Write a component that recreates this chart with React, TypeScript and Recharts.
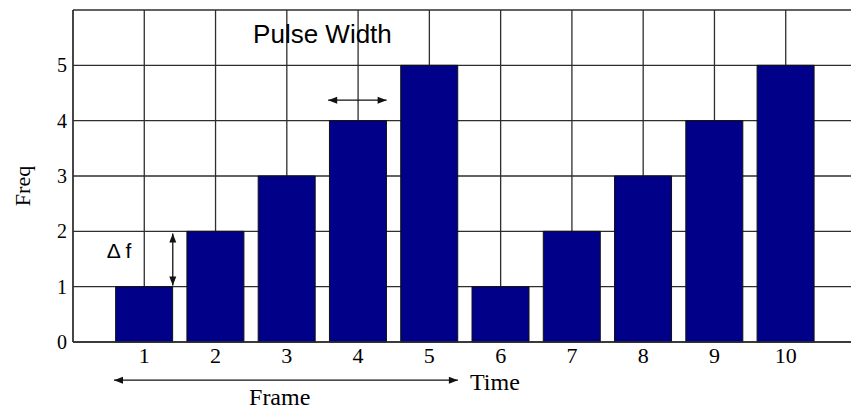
import { BarChart, Bar, XAxis, YAxis, CartesianGrid, ReferenceLine, ReferenceDot } from 'recharts';

// time slots and the frequency step used in each
const times = [1, 2, 3, 4, 5, 6, 7, 8, 9, 10];
const freqs = [1, 2, 3, 4, 5, 1, 2, 3, 4, 5];
const xTicks = [0, 1, 2, 3, 4, 5, 6, 7, 8, 9, 10, 11];
const yTicks = [0, 1, 2, 3, 4, 5, 6];

const data = times.map((t, i) => ({ time: t, freq: freqs[i] }));

const SERIF = '"Liberation Serif", "Times New Roman", serif';
const SANS = '"Liberation Sans", Arial, sans-serif';

// line with an arrow head at both ends
function DoubleArrow(props: any) {
  const { x1, y1, x2, y2 } = props;
  const ang = Math.atan2(y2 - y1, x2 - x1);
  const len = 9;
  const half = 3.5;
  const head = (x: number, y: number, a: number) => {
    const bx = x - len * Math.cos(a);
    const by = y - len * Math.sin(a);
    const px = -Math.sin(a) * half;
    const py = Math.cos(a) * half;
    return `${x},${y} ${bx + px},${by + py} ${bx - px},${by - py}`;
  };
  return (
    <g>
      <line x1={x1} y1={y1} x2={x2} y2={y2} stroke="#111" strokeWidth={1.3} />
      <polygon points={head(x2, y2, ang)} fill="#111" />
      <polygon points={head(x1, y1, ang + Math.PI)} fill="#111" />
    </g>
  );
}

const textAt = (value: string, font: string, size: number, anchor: 'start' | 'middle' = 'middle') =>
  (p: any) => (
    <text
      x={p.cx}
      y={p.cy}
      textAnchor={anchor}
      dominantBaseline="central"
      fontFamily={font}
      fontSize={size}
      fill="#000"
    >
      {value}
    </text>
  );

export default function App() {
  return (
    <div style={{ position: 'fixed', left: 0, top: 0, width: 851, height: 414, overflow: 'hidden', background: '#fff' }}>
      <BarChart
        width={857}
        height={414}
        data={data}
        margin={{ top: 10, right: 0, left: 0, bottom: 42 }}
      >
        <CartesianGrid stroke="#2e2e2e" strokeWidth={1.3} />
        <XAxis
          dataKey="time"
          type="number"
          domain={[0, 11]}
          ticks={xTicks}
          interval={0}
          height={30}
          tickSize={0}
          tickMargin={5}
          tickFormatter={(v) => (v === 0 || v === 11 ? '' : String(v))}
          tick={{ fontFamily: SERIF, fontSize: 22, fill: '#000' }}
          axisLine={{ stroke: '#2e2e2e', strokeWidth: 1.3 }}
        />
        <YAxis
          type="number"
          domain={[0, 6]}
          ticks={yTicks}
          interval={0}
          width={73}
          tickSize={0}
          tickMargin={6}
          tickFormatter={(v) => (v === 6 ? '' : String(v))}
          tick={{ fontFamily: SERIF, fontSize: 20, fill: '#000' }}
          axisLine={{ stroke: '#2e2e2e', strokeWidth: 1.3 }}
          label={{
            content: (p: any) => {
              const vb = p.viewBox;
              const cx = vb.x + 22;
              const cy = vb.y + vb.height / 2 + 10;
              return (
                <text
                  x={cx}
                  y={cy}
                  transform={`rotate(-90 ${cx} ${cy})`}
                  textAnchor="middle"
                  dominantBaseline="central"
                  fontFamily={SERIF}
                  fontSize={22}
                  fill="#000"
                >
                  Freq
                </text>
              );
            },
          }}
        />
        <Bar
          dataKey="freq"
          fill="#000088"
          stroke="#111"
          strokeWidth={1}
          barSize={57}
          isAnimationActive={false}
        />
        <ReferenceLine
          segment={[{ x: 3.58, y: 4.37 }, { x: 4.4, y: 4.37 }]}
          shape={DoubleArrow}
          ifOverflow="visible"
        />
        <ReferenceLine
          segment={[{ x: 1.4, y: 1.02 }, { x: 1.4, y: 1.96 }]}
          shape={DoubleArrow}
          ifOverflow="visible"
        />
        <ReferenceLine
          segment={[{ x: 0.575, y: -0.69 }, { x: 5.4, y: -0.69 }]}
          shape={DoubleArrow}
          ifOverflow="visible"
        />
        <ReferenceDot x={3.5} y={5.575} ifOverflow="visible" shape={textAt('Pulse Width', SANS, 26)} />
        <ReferenceDot x={0.645} y={1.654} ifOverflow="visible" shape={textAt('\u0394 f', SANS, 21)} />
        <ReferenceDot x={5.57} y={-0.72} ifOverflow="visible" shape={textAt('Time', SERIF, 24, 'start')} />
        <ReferenceDot x={2.9} y={-0.99} ifOverflow="visible" shape={textAt('Frame', SERIF, 24)} />
      </BarChart>
    </div>
  );
}
